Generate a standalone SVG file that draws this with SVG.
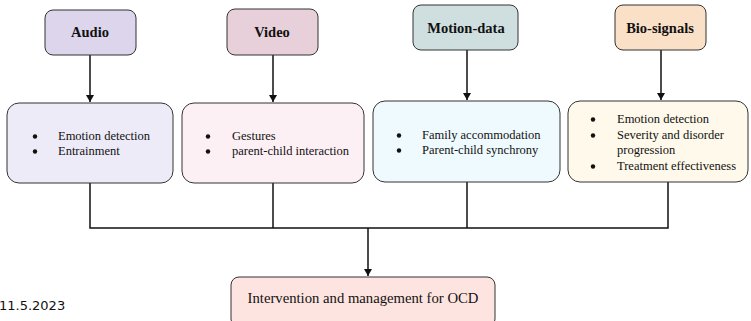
<svg xmlns="http://www.w3.org/2000/svg" width="751" height="321" viewBox="0 0 751 321">
<style>
.box{stroke:#333;stroke-width:1}
.hd{font-family:"Liberation Serif","Times New Roman",serif;font-weight:bold;font-size:14.5px;fill:#111;text-anchor:middle}
.li{font-family:"Liberation Serif","Times New Roman",serif;font-size:12.5px;fill:#111}
.fin{font-family:"Liberation Serif","Times New Roman",serif;font-size:14.7px;fill:#111;text-anchor:middle}
.conn{stroke:#111;stroke-width:1.5;fill:none}
.bul{fill:#111}
</style>
<defs>
<marker id="ah" markerWidth="8" markerHeight="10" refX="7" refY="5" orient="auto" markerUnits="userSpaceOnUse">
<path d="M0,1 L7,5 L0,9 Z" fill="#111"/>
</marker>
</defs>
<rect width="751" height="321" fill="#fff"/>
<g id="connectors">
<line class="conn" x1="90" y1="55" x2="90" y2="102" marker-end="url(#ah)"/>
<line class="conn" x1="273" y1="55" x2="273" y2="102" marker-end="url(#ah)"/>
<line class="conn" x1="467" y1="50" x2="467" y2="100" marker-end="url(#ah)"/>
<line class="conn" x1="661" y1="50" x2="661" y2="100" marker-end="url(#ah)"/>
<polyline class="conn" points="90,183 90,228 668,228 668,182"/>
<line class="conn" x1="273" y1="183" x2="273" y2="228"/>
<line class="conn" x1="467" y1="182" x2="467" y2="228"/>
<line class="conn" x1="368" y1="228" x2="368" y2="276" marker-end="url(#ah)"/>
</g>
<g id="audio"><rect class="box" x="45" y="10" width="91" height="45" rx="8" fill="#dcd5eb"/><text class="hd" x="90" y="37">Audio</text></g>
<g id="video"><rect class="box" x="227" y="9" width="91" height="46" rx="8" fill="#e8d0da"/><text class="hd" x="272" y="37">Video</text></g>
<g id="motion"><rect class="box" x="413" y="5" width="105" height="45" rx="8" fill="#cfdfe0"/><text class="hd" x="466" y="33">Motion-data</text></g>
<g id="bio"><rect class="box" x="615" y="5" width="91" height="45" rx="8" fill="#fbe0c8"/><text class="hd" x="660" y="33">Bio-signals</text></g>
<g id="audio-uses"><rect class="box" x="7" y="103" width="166" height="80" rx="12" fill="#eeebf8"/>
<circle class="bul" cx="35" cy="136.5" r="2.2"/><text class="li" x="58" y="140">Emotion detection</text>
<circle class="bul" cx="35" cy="151.5" r="2.2"/><text class="li" x="58" y="155">Entrainment</text></g>
<g id="video-uses"><rect class="box" x="182" y="103" width="182" height="80" rx="12" fill="#fdf0f5"/>
<circle class="bul" cx="208" cy="136.5" r="2.2"/><text class="li" x="232" y="140">Gestures</text>
<circle class="bul" cx="208" cy="151.5" r="2.2"/><text class="li" x="232" y="155">parent-child interaction</text></g>
<g id="motion-uses"><rect class="box" x="373" y="101" width="187" height="81" rx="12" fill="#eefafd"/>
<circle class="bul" cx="399" cy="135.5" r="2.2"/><text class="li" x="422" y="139">Family accommodation</text>
<circle class="bul" cx="399" cy="150.5" r="2.2"/><text class="li" x="422" y="154">Parent-child synchrony</text></g>
<g id="bio-uses"><rect class="box" x="568" y="101" width="180" height="81" rx="12" fill="#fef9ea"/>
<circle class="bul" cx="593" cy="119.5" r="2.2"/><text class="li" x="617" y="123">Emotion detection</text>
<circle class="bul" cx="593" cy="135.5" r="2.2"/><text class="li" x="617" y="139">Severity and disorder</text>
<text class="li" x="617" y="154">progression</text>
<circle class="bul" cx="593" cy="166.5" r="2.2"/><text class="li" x="617" y="170">Treatment effectiveness</text></g>
<g id="outcome"><rect class="box" x="231" y="277" width="264" height="50" rx="8" fill="#fde4e0"/><text class="fin" x="363" y="303">Intervention and management for OCD</text></g>
<text x="-1" y="310" font-family="DejaVu Sans,sans-serif" font-size="13" fill="#111">11.5.2023</text>
</svg>
